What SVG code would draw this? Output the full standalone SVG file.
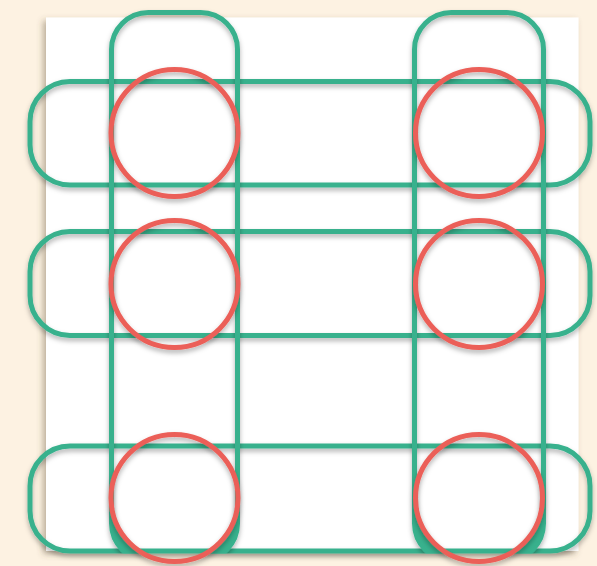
<svg xmlns="http://www.w3.org/2000/svg" width="597" height="566" viewBox="0 0 597 566">
<defs>
<filter id="pageShadow" x="-10%" y="-10%" width="120%" height="120%">
<feDropShadow dx="-3" dy="3" stdDeviation="3" flood-color="#5a4a30" flood-opacity="0.4"/>
</filter>
<filter id="sh" x="-20%" y="-20%" width="140%" height="140%">
<feDropShadow dx="0" dy="3" stdDeviation="2.5" flood-color="#000" flood-opacity="0.3"/>
</filter>
<clipPath id="pageClip"><rect x="0" y="0" width="597" height="553.5"/></clipPath>
</defs>
<style>
.g{fill:none;stroke:#38b18d;stroke-width:5}
.r{fill:none;stroke:#eb5f58;stroke-width:5}
.gf{fill:#38b18d}
</style>
<rect width="597" height="566" fill="#fdf2e2"/>
<rect id="page" x="46" y="17.5" width="532.5" height="533.5" fill="#ffffff" filter="url(#pageShadow)"/>
<g id="rows" filter="url(#sh)">
<rect id="row1" class="g" x="30" y="81.5" width="560" height="103.5" rx="40"/>
<rect id="row2" class="g" x="30" y="231.5" width="560" height="104" rx="40"/>
<rect id="row3" class="g" x="30" y="446" width="560" height="105" rx="40"/>
</g>
<g id="cols" clip-path="url(#pageClip)">
<g filter="url(#sh)">
<rect id="col1" class="g" x="111.5" y="12.5" width="126" height="548" rx="37"/>
<rect id="col2" class="g" x="414.5" y="12.5" width="129" height="548" rx="37"/>
<path class="gf" d="M111.5,498 V522 A38,38 0 0 0 149.5,560 H199.5 A38,38 0 0 0 237.5,522 V498 H238 A63.5,63.5 0 0 1 111,498 Z"/>
<path class="gf" d="M414.5,498 V522 A38,38 0 0 0 452.5,560 H505.5 A38,38 0 0 0 543.5,522 V498 H542.5 A63.5,63.5 0 0 1 415.5,498 Z"/>
</g>
</g>
<g id="circles" filter="url(#sh)">
<circle id="c11" class="r" cx="174.5" cy="133" r="63.5"/>
<circle id="c12" class="r" cx="479" cy="133" r="63.5"/>
<circle id="c21" class="r" cx="174.5" cy="284" r="63.5"/>
<circle id="c22" class="r" cx="479" cy="284" r="63.5"/>
<circle id="c31" class="r" cx="174.5" cy="498" r="63.5"/>
<circle id="c32" class="r" cx="479" cy="498" r="63.5"/>
</g>
</svg>
